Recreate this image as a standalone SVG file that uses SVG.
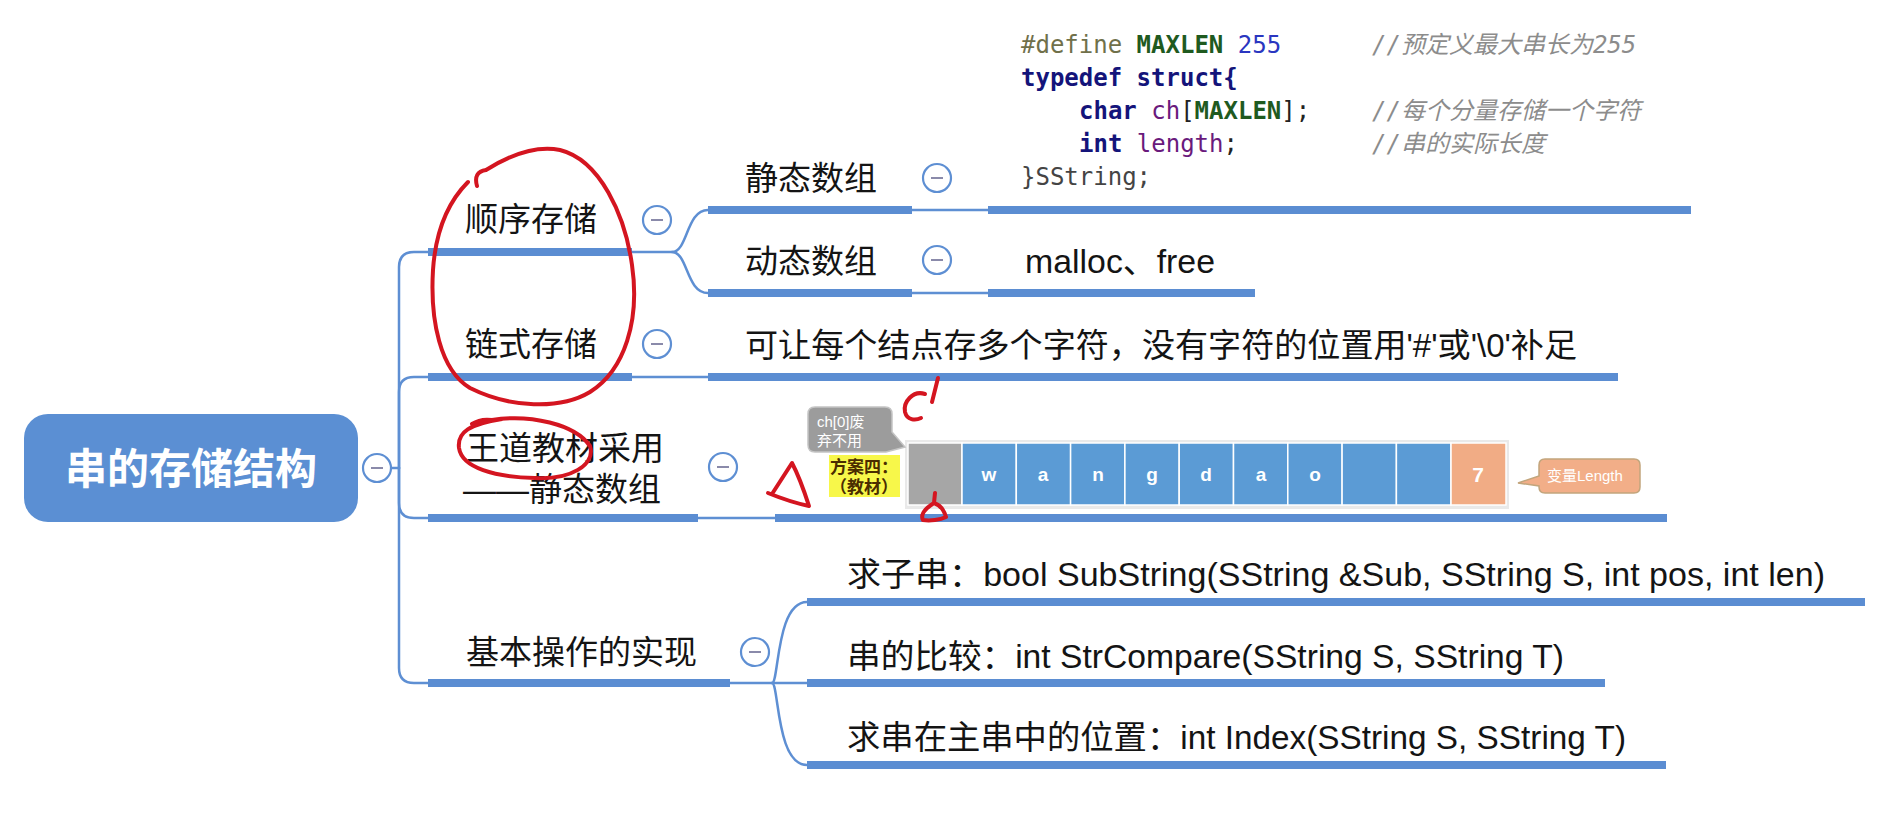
<svg xmlns="http://www.w3.org/2000/svg" width="1878" height="837" viewBox="0 0 1878 837">
<defs>
<style>
.thin{fill:none;stroke:#5e8fd3;stroke-width:2.5;stroke-linecap:round}
.bar{fill:none;stroke:#5b8dd2;stroke-width:8}
.lbl{font-family:"Liberation Sans","Noto Sans CJK SC",sans-serif;font-size:33px;fill:#141414}
.code{font-family:"DejaVu Sans Mono","Liberation Mono","Noto Sans CJK SC",monospace;font-size:24px}
.cmt{fill:#8c8c8c;font-style:italic}
.kw{fill:#14147a;font-weight:bold}
.mac{fill:#1f5a1f;font-weight:bold}
.var{fill:#6a1a7c}
.num{fill:#2a36c0}
.pre{fill:#70704a}
.red{fill:none;stroke:#d41520;stroke-width:4;stroke-linecap:round;stroke-linejoin:round}
.cell{stroke:#ffffff;stroke-width:1.5}
.ct{font-family:"Liberation Sans","Noto Sans CJK SC",sans-serif;font-size:19px;font-weight:bold;fill:#ffffff;text-anchor:middle}
.small{font-family:"Liberation Sans","Noto Sans CJK SC",sans-serif;font-size:15px;fill:#ffffff}
.yel{font-family:"Liberation Serif","Noto Sans CJK SC",serif;font-size:17px;font-weight:bold;fill:#4a2c00}
.tg circle{fill:#ffffff;stroke:#5e8fd3;stroke-width:2.2}
.tg line{stroke:#8a8aaa;stroke-width:2}
</style>
</defs>
<rect width="1878" height="837" fill="#ffffff"/>

<g id="connectors">
  <path class="thin" d="M391 468 H399"/>
  <path class="thin" d="M399 468 V267 Q399 252 414 252 H430"/>
  <path class="thin" d="M399 468 V392 Q399 377 414 377 H430"/>
  <path class="thin" d="M399 468 V503 Q399 518 414 518 H430"/>
  <path class="thin" d="M399 468 V668 Q399 683 414 683 H430"/>
  <path class="thin" d="M632 252 H672 C688 252 686 210 708 210"/>
  <path class="thin" d="M672 252 C688 252 686 293 708 293"/>
  <path class="thin" d="M912 210 H988"/>
  <path class="thin" d="M912 293 H988"/>
  <path class="thin" d="M632 377 H708"/>
  <path class="thin" d="M698 518 H775"/>
  <path class="thin" d="M730 683 H807"/>
  <path class="thin" d="M772 683 C779 683 776 602 807 602"/>
  <path class="thin" d="M772 683 C779 683 776 765 807 765"/>
  <path class="bar" d="M428 252 H632"/>
  <path class="bar" d="M428 377 H632"/>
  <path class="bar" d="M428 518 H698"/>
  <path class="bar" d="M428 683 H730"/>
  <path class="bar" d="M708 210 H912"/>
  <path class="bar" d="M708 293 H912"/>
  <path class="bar" d="M988 210 H1691"/>
  <path class="bar" d="M988 293 H1255"/>
  <path class="bar" d="M708 377 H1618"/>
  <path class="bar" d="M775 518 H1667"/>
  <path class="bar" d="M807 602 H1865"/>
  <path class="bar" d="M807 683 H1605"/>
  <path class="bar" d="M807 765 H1666"/>
</g>

<g id="root">
  <rect x="24" y="414" width="334" height="108" rx="24" fill="#5b8fd3"/>
  <text x="191" y="484" text-anchor="middle" style="font-family:'Noto Sans CJK SC',sans-serif;font-size:42px;font-weight:bold;fill:#ffffff">串的存储结构</text>
  <g class="tg"><circle cx="377" cy="468" r="14"/><line x1="371" y1="468" x2="383" y2="468"/></g>
</g>

<g id="n-shunxu">
  <text class="lbl" x="465" y="231">顺序存储</text>
  <g class="tg"><circle cx="657" cy="220" r="14"/><line x1="651" y1="220" x2="663" y2="220"/></g>
</g>
<g id="n-jingtai">
  <text class="lbl" x="745" y="190">静态数组</text>
  <g class="tg"><circle cx="937" cy="178" r="14"/><line x1="931" y1="178" x2="943" y2="178"/></g>
</g>
<g id="n-code">
  <text class="code" x="1021" y="53"><tspan class="pre">#define</tspan> <tspan class="mac">MAXLEN</tspan> <tspan class="num">255</tspan></text>
  <text class="code cmt" x="1372" y="53">//预定义最大串长为255</text>
  <text class="code kw" x="1021" y="86">typedef struct{</text>
  <text class="code" x="1079" y="119"><tspan class="kw">char</tspan> <tspan class="var">ch</tspan><tspan fill="#222">[</tspan><tspan class="mac">MAXLEN</tspan><tspan fill="#222">];</tspan></text>
  <text class="code cmt" x="1372" y="119">//每个分量存储一个字符</text>
  <text class="code" x="1079" y="152"><tspan class="kw">int</tspan> <tspan class="var">length</tspan><tspan fill="#222">;</tspan></text>
  <text class="code cmt" x="1372" y="152">//串的实际长度</text>
  <text class="code" x="1021" y="185" fill="#444444">}SString;</text>
</g>
<g id="n-dongtai">
  <text class="lbl" x="745" y="273">动态数组</text>
  <g class="tg"><circle cx="937" cy="260" r="14"/><line x1="931" y1="260" x2="943" y2="260"/></g>
</g>
<g id="n-malloc">
  <text class="lbl" x="1025" y="273" textLength="190" lengthAdjust="spacingAndGlyphs">malloc、free</text>
</g>
<g id="n-lianshi">
  <text class="lbl" x="465" y="356">链式存储</text>
  <g class="tg"><circle cx="657" cy="344" r="14"/><line x1="651" y1="344" x2="663" y2="344"/></g>
</g>
<g id="n-lianshi-desc">
  <text class="lbl" x="745" y="357" textLength="832" lengthAdjust="spacingAndGlyphs">可让每个结点存多个字符，没有字符的位置用'#'或'\0'补足</text>
</g>
<g id="n-wangdao">
  <text class="lbl" x="466" y="460">王道教材采用</text>
  <text class="lbl" x="463" y="501">——静态数组</text>
  <g class="tg"><circle cx="723" cy="467" r="14"/><line x1="717" y1="467" x2="729" y2="467"/></g>
</g>
<g id="n-array">
  <rect x="905" y="440" width="604" height="69" fill="#e9e9e9"/>
  <rect class="cell" x="908" y="443" width="54" height="62" fill="#a6a6a6"/>
  <rect class="cell" x="962" y="443" width="54.3" height="62" fill="#5b9bd5"/>
  <rect class="cell" x="1016.3" y="443" width="54.3" height="62" fill="#5b9bd5"/>
  <rect class="cell" x="1070.6" y="443" width="54.3" height="62" fill="#5b9bd5"/>
  <rect class="cell" x="1124.9" y="443" width="54.3" height="62" fill="#5b9bd5"/>
  <rect class="cell" x="1179.2" y="443" width="54.3" height="62" fill="#5b9bd5"/>
  <rect class="cell" x="1233.5" y="443" width="54.3" height="62" fill="#5b9bd5"/>
  <rect class="cell" x="1287.8" y="443" width="54.3" height="62" fill="#5b9bd5"/>
  <rect class="cell" x="1342.1" y="443" width="54.3" height="62" fill="#5b9bd5"/>
  <rect class="cell" x="1396.4" y="443" width="54.6" height="62" fill="#5b9bd5"/>
  <rect class="cell" x="1451" y="443" width="55" height="62" fill="#f1ac85"/>
  <text class="ct" x="989" y="481">w</text>
  <text class="ct" x="1043" y="481">a</text>
  <text class="ct" x="1098" y="481">n</text>
  <text class="ct" x="1152" y="481">g</text>
  <text class="ct" x="1206" y="481">d</text>
  <text class="ct" x="1261" y="481">a</text>
  <text class="ct" x="1315" y="481">o</text>
  <text class="ct" x="1478" y="482" style="font-size:21px">7</text>
  <path d="M815 407 H885 Q892 407 892 414 V432 L905 447 L886 452 H815 Q808 452 808 445 V414 Q808 407 815 407 Z" fill="#9c9c9c" stroke="#c4c4c4" stroke-width="1.5"/>
  <text class="small" x="817" y="427">ch[0]废</text>
  <text class="small" x="817" y="446">弃不用</text>
  <rect x="829" y="455" width="71" height="42" fill="#f7f74a"/>
  <text class="yel" x="830" y="473">方案四：</text>
  <text class="yel" x="830" y="493">（教材）</text>
  <path d="M1545 459 H1634 Q1640 459 1640 465 V487 Q1640 493 1634 493 H1545 Q1539 493 1539 487 V486 L1518 483 L1539 476 V465 Q1539 459 1545 459 Z" fill="#f2ae88" stroke="#c2a57c" stroke-width="1.5"/>
  <text class="small" x="1547" y="481">变量Length</text>
</g>
<g id="n-jiben">
  <text class="lbl" x="466" y="664">基本操作的实现</text>
  <g class="tg"><circle cx="755" cy="652" r="14"/><line x1="749" y1="652" x2="761" y2="652"/></g>
</g>
<g id="n-sub">
  <text class="lbl" x="847" y="586" textLength="978" lengthAdjust="spacingAndGlyphs">求子串：bool SubString(SString &amp;Sub, SString S, int pos, int len)</text>
</g>
<g id="n-cmp">
  <text class="lbl" x="847" y="668" textLength="717" lengthAdjust="spacingAndGlyphs">串的比较：int StrCompare(SString S, SString T)</text>
</g>
<g id="n-index">
  <text class="lbl" x="847" y="749" textLength="779" lengthAdjust="spacingAndGlyphs">求串在主串中的位置：int Index(SString S, SString T)</text>
</g>

<g id="annotations">
  <path class="red" d="M477 186 Q473 172 486 170 C510 155 535 145 560 150 C600 160 625 215 632 265 C640 320 625 370 590 392 C560 410 510 408 470 388 C440 370 430 320 433 270 C436 225 452 198 468 182"/>
  <path class="red" d="M472 424 C478 420 485 419 492 420 C530 414 575 424 590 446 C596 465 570 480 535 478 C495 477 462 468 459 448 C457 432 470 424 502 419"/>
  <path class="red" d="M772 494 L792 463 Q800 478 809 506 Q790 502 768 493"/>
  <path class="red" d="M925 394 C913 390 903 402 905 412 C907 420 915 421 921 418"/>
  <path class="red" d="M938 378 L932 402"/>
  <path class="red" d="M935 493 L934 503 C926 508 920 514 923 520 C930 521 940 520 946 517 C944 510 940 505 934 503"/>
</g>
</svg>
